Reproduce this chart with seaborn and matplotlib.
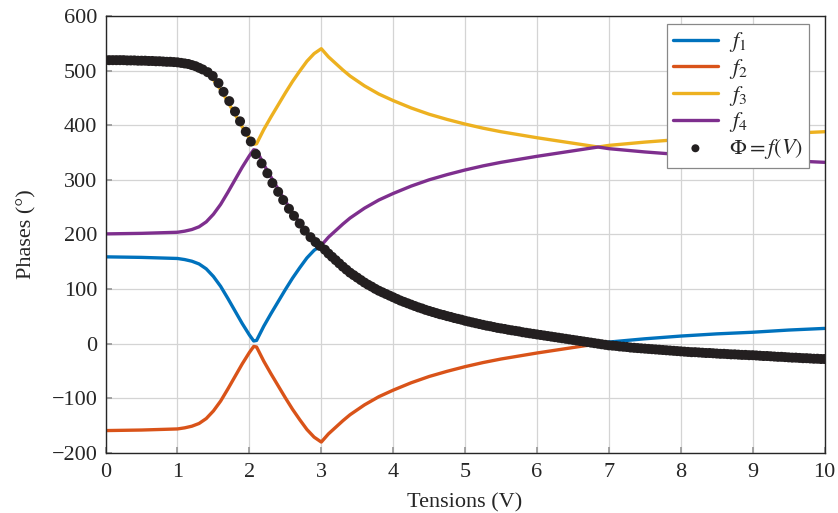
import matplotlib
matplotlib.use('Agg')
import matplotlib.pyplot as plt
import numpy as np
import pandas as pd
import seaborn as sns

# ---------------------------------------------------------------- data
# the four branches, read on a common voltage grid
line_v = [0, 0.5, 1.0, 1.1, 1.2, 1.3, 1.4, 1.5, 1.6, 1.7, 1.8, 1.9, 2.0, 2.06,
          2.1, 2.2, 2.3, 2.4, 2.5, 2.6, 2.7, 2.8, 2.9, 3.0,
          3.1, 3.2, 3.3, 3.4, 3.5, 3.6, 3.7, 3.8, 3.9, 4.0,
          4.25, 4.5, 4.75, 5.0, 5.25, 5.5, 5.75, 6.0, 6.25, 6.5, 6.85,
          7.0, 7.5, 8.0, 8.5, 9.0, 9.5, 10.0]
f1 = [159, 158, 156, 154, 151, 146, 137, 123, 105, 83, 60, 37, 16, 5,
      6, 32, 55, 77, 99, 120, 139, 157, 171, 180,
      165, 153, 141, 130, 121, 112, 104.5, 97, 91, 85,
      71.5, 60, 50.5, 42, 34.5, 28, 22.5, 17, 12, 7, 0,
      3, 9, 14, 18, 21, 25, 28]
f2 = [-159, -158, -156, -154, -151, -146, -137, -123, -105, -83, -60, -37, -16, -5,
      -6, -32, -55, -77, -99, -120, -139, -157, -171, -180,
      -165, -153, -141, -130, -121, -112, -104.5, -97, -91, -85,
      -71.5, -60, -50.5, -42, -34.5, -28, -22.5, -17, -12, -7, 0,
      -3, -9, -14, -18, -21, -25, -28]
f3 = [519, 518, 516, 514, 511, 506, 497, 483, 465, 443, 420, 397, 376, 365,
      366, 392, 415, 437, 459, 480, 499, 517, 531, 540,
      525, 513, 501, 490, 481, 472, 464.5, 457, 451, 445,
      431.5, 420, 410.5, 402, 394.5, 388, 382.5, 377, 372, 367, 360,
      363, 369, 374, 378, 381, 385, 388]
f4 = [201, 202, 204, 206, 209, 214, 223, 237, 255, 277, 300, 323, 344, 355,
      354, 328, 305, 283, 261, 240, 221, 203, 189, 180,
      195, 207, 219, 230, 239, 248, 255.5, 263, 269, 275,
      288.5, 300, 309.5, 318, 325.5, 332, 337.5, 343, 348, 353, 360,
      357, 351, 346, 342, 339, 335, 332]

# measured phase Phi = f(V)
dots_v_a = np.round(np.arange(0, 1.301, 0.05), 2)
phi_a = [519, 519, 519, 519, 519, 519, 518.5, 518.5, 518.5, 518,
         518, 518, 517.5, 517.5, 517, 517, 516.5, 516, 516, 515.5,
         515, 514, 513, 512, 510, 508, 505]
dots_v_b = [1.35, 1.42, 1.49, 1.57, 1.64, 1.72, 1.80, 1.87, 1.95, 2.02, 2.09, 2.17,
            2.25, 2.32, 2.40, 2.47, 2.55, 2.62, 2.70, 2.77, 2.85, 2.92, 2.98]
phi_b = [502, 497, 490, 477, 461, 444, 425, 407, 388, 370, 347, 330,
         312, 294, 278, 263, 247, 234, 220, 207, 195, 186, 179]
dots_v_c = np.round(np.arange(3.05, 10.001, 0.05), 2)
phi_c = [172, 165, 159, 153, 147, 141, 135.5, 130, 125.5, 121,
         116.5, 112, 108, 104.5, 100.5, 97, 94, 91, 88, 85,
         82, 79, 76.5, 74, 71.5, 69, 66.5, 64.5, 62, 60,
         58, 56, 54, 52.5, 50.5, 49, 47, 45.5, 44, 42,
         40.5, 39, 37.5, 36, 34.5, 33, 32, 30.5, 29, 28,
         27, 25.5, 24.5, 23.5, 22.5, 21, 20, 19, 18, 17,
         16, 15, 14, 13, 12, 11, 10, 9, 8, 7,
         6, 5, 4, 3, 2, 1, 0, -1, -2, -3,
         -3.5, -4, -5, -5.5, -6, -7, -7.5, -8, -8.5, -9,
         -9.5, -10, -10.5, -11, -11.5, -12, -12.5, -13, -13.5, -14,
         -14.5, -15, -15.5, -15.5, -16, -16.5, -17, -17, -17.5, -18,
         -18.5, -18.5, -19, -19.5, -19.5, -20, -20.5, -20.5, -21, -21,
         -21.5, -22, -22.5, -22.5, -23, -23.5, -24, -24, -24.5, -25,
         -25.5, -25.5, -26, -26.5, -26.5, -27, -27.5, -27.5, -28, -28]

x_ticks = list(range(0, 11))
y_ticks = [-200, -100, 0, 100, 200, 300, 400, 500, 600]
# -------------------------------------------------------------------------

lines = pd.DataFrame({'V': line_v, 'f1': f1, 'f2': f2, 'f3': f3, 'f4': f4})
dots = pd.DataFrame({'V': np.concatenate([dots_v_a, dots_v_b, dots_v_c]),
                     'phi': phi_a + phi_b + phi_c})

sns.set_theme(style='whitegrid')
plt.rcParams['font.family'] = ['Liberation Serif', 'DejaVu Serif']
plt.rcParams['mathtext.fontset'] = 'stix'

colors = {'f1': '#0072BD', 'f2': '#D95319', 'f3': '#EDB120', 'f4': '#7E2F8E'}
labels = {'f1': '$f_1$', 'f2': '$f_2$', 'f3': '$f_3$', 'f4': '$f_4$'}

fig, ax = plt.subplots(figsize=(8.38, 5.13), dpi=100)
fig.subplots_adjust(left=0.126, right=0.984, bottom=0.117, top=0.969)

for k in ['f1', 'f2', 'f3', 'f4']:
    sns.lineplot(data=lines, x='V', y=k, ax=ax, color=colors[k], linewidth=2.4,
                 label=labels[k], zorder=2)
sns.scatterplot(data=dots, x='V', y='phi', ax=ax, color='#231F20', s=52,
                edgecolor='none', label=r'$\Phi = f(V)$', zorder=3)

ax.set_xlim(0, 10)
ax.set_ylim(-200, 600)
ax.set_xticks(x_ticks)
ax.set_yticks(y_ticks)
ax.set_yticklabels([f'{t}'.replace('-', '\u2212') for t in y_ticks])
ax.set_xlabel('Tensions (V)', fontsize=16, labelpad=8)
ax.set_ylabel('Phases (°)', fontsize=16, labelpad=11)
ax.tick_params(axis='x', pad=7)
ax.tick_params(axis='y', pad=6)
ax.tick_params(axis='both', labelsize=16, direction='in', length=4, color='#999999',
               bottom=True, left=True)
ax.grid(True, color='#d4d4d4', linewidth=0.9)
for s in ax.spines.values():
    s.set_color('#262626')
    s.set_linewidth(1.0)

leg = ax.legend(loc='upper right', bbox_to_anchor=(0.979, 0.982), borderaxespad=0,
                fontsize=16, frameon=True, fancybox=False, framealpha=1,
                edgecolor='#888888', handlelength=2.0, handletextpad=0.5,
                borderpad=0.3, labelspacing=0.12, markerscale=0.8)
leg.get_frame().set_linewidth(0.9)

plt.savefig('out.png', dpi=100)
